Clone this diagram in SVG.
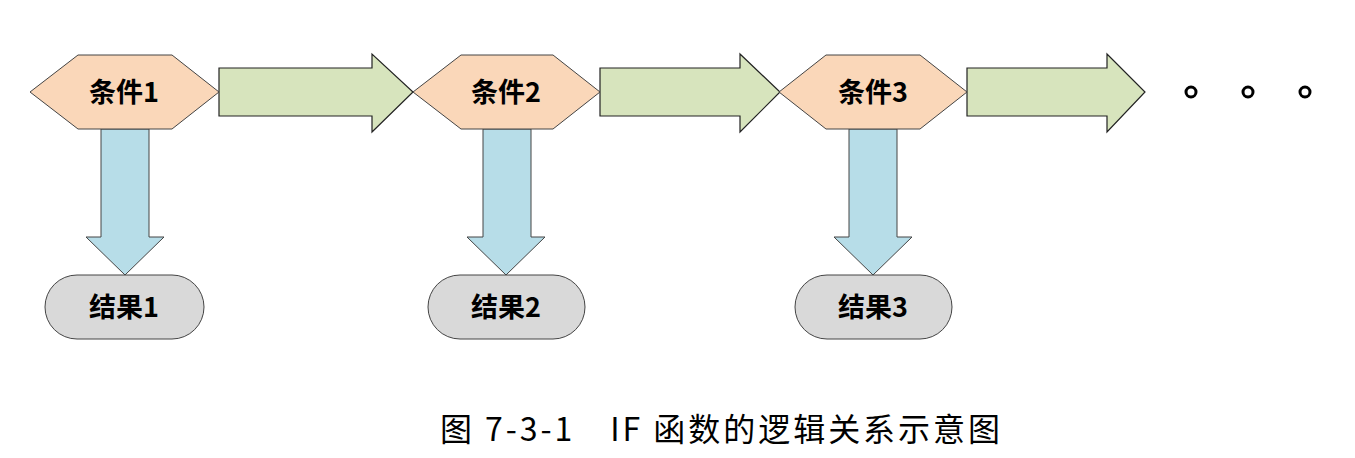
<svg xmlns="http://www.w3.org/2000/svg" width="1355" height="458" viewBox="0 0 1355 458">
<style>
.hex{fill:#fad7b9;stroke:#444;stroke-width:1}
.ga{fill:#d7e4bd;stroke:#222;stroke-width:1.2}
.ba{fill:#b7dde8;stroke:#444;stroke-width:1}
.res{fill:#d9d9d9;stroke:#444;stroke-width:1}
.t{font-family:"Noto Sans CJK SC","Noto Sans",sans-serif;font-weight:bold;font-size:27px;text-anchor:middle;fill:#000}
.cap{font-family:"Noto Sans CJK SC","Noto Sans",sans-serif;font-size:32px;fill:#000}
.dot{fill:none;stroke:#000;stroke-width:3}
</style>
<rect width="1355" height="458" fill="#fff"/>
<g id="connectors">
<path class="ga" d="M219,68H372V54L413,92L372,132V116H219Z"/>
<path class="ga" d="M600,68H740V54L780,92L740,132V116H600Z"/>
<path class="ga" d="M967,68H1107V54L1145,92L1107,132V116H967Z"/>
<path class="ba" d="M101,129V237H86L125,275L164,237H149V129Z"/>
<path class="ba" d="M483,129V237H467L506,275L545,237H531V129Z"/>
<path class="ba" d="M849,129V237H834L873,275L912,237H897V129Z"/>
</g>
<g id="cond1"><path class="hex" d="M30,92L78,55H172L219,92L172,129H78Z"/><text class="t" x="124" y="102">条件1</text></g>
<g id="cond2"><path class="hex" d="M413,92L461,55H553L600,92L553,129H461Z"/><text class="t" x="506" y="102">条件2</text></g>
<g id="cond3"><path class="hex" d="M779,92L826,55H920L967,92L920,129H826Z"/><text class="t" x="873" y="102">条件3</text></g>
<g id="res1"><rect class="res" x="45" y="275" width="159" height="64" rx="32"/><text class="t" x="124" y="317">结果1</text></g>
<g id="res2"><rect class="res" x="428" y="275" width="157" height="64" rx="32"/><text class="t" x="506" y="317">结果2</text></g>
<g id="res3"><rect class="res" x="795" y="275" width="157" height="64" rx="32"/><text class="t" x="873" y="317">结果3</text></g>
<g id="dots"><circle class="dot" cx="1191" cy="92" r="5"/><circle class="dot" cx="1248" cy="92" r="5"/><circle class="dot" cx="1305" cy="92" r="5"/></g>
<text class="cap" x="440" y="441" textLength="560" lengthAdjust="spacing">图 7-3-1　IF 函数的逻辑关系示意图</text>
</svg>
